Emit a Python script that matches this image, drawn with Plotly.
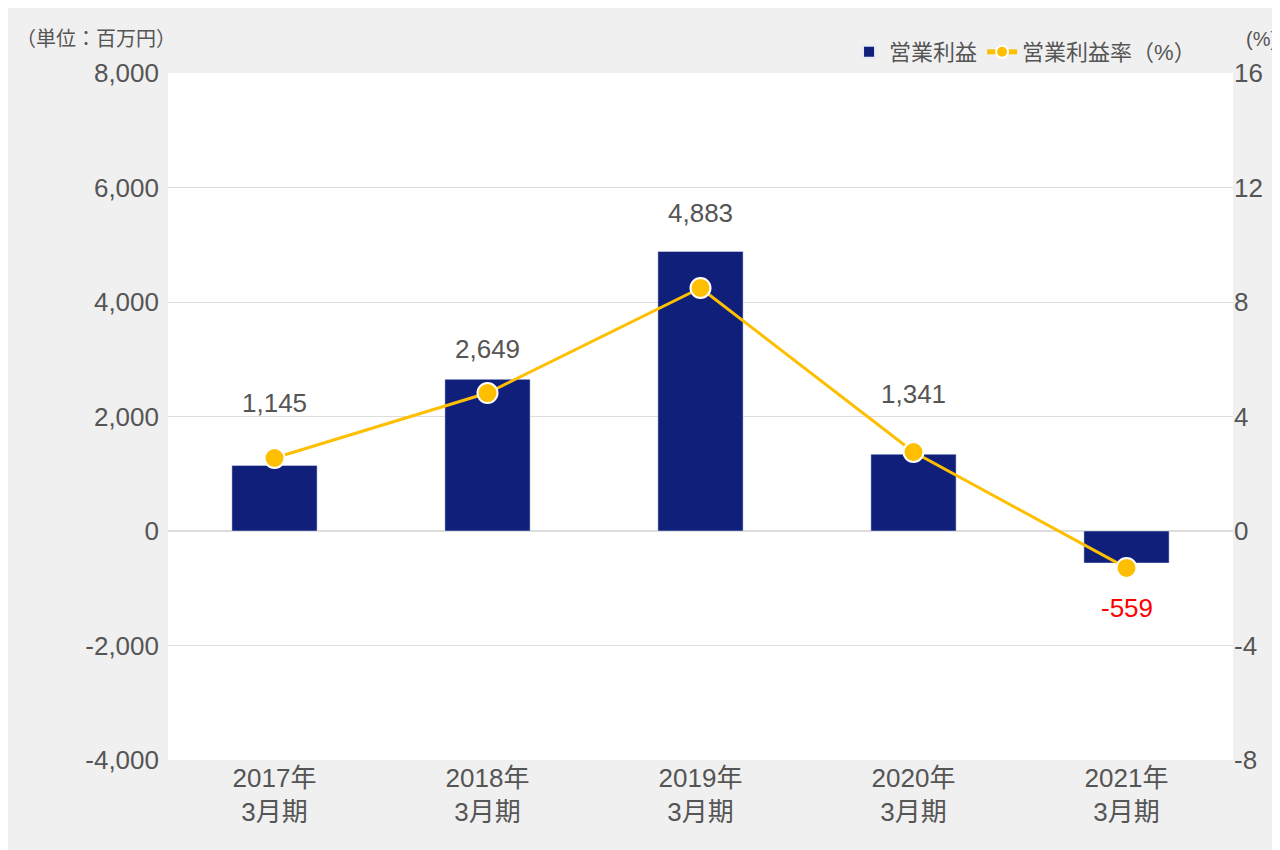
import plotly.graph_objects as go

years = ["2017年<br>3月期", "2018年<br>3月期", "2019年<br>3月期", "2020年<br>3月期", "2021年<br>3月期"]
profit = [1145, 2649, 4883, 1341, -559]
margin = [2.55, 4.82, 8.49, 2.76, -1.29]
label_shift = [62, 30, 38, 60, -45]
left_ticks = [-4000, -2000, 0, 2000, 4000, 6000, 8000]
right_ticks = [-8, -4, 0, 4, 8, 12, 16]

font = "Liberation Sans, Arial, Noto Sans CJK JP, sans-serif"
grey = "#555555"

fig = go.Figure()
fig.add_trace(go.Bar(x=years, y=profit, name="営業利益", marker_color="#0f1f7a", width=0.4))
fig.add_trace(go.Scatter(x=years, y=margin, name="営業利益率（%）", yaxis="y2", mode="lines+markers",
                         line=dict(color="#fdbf00", width=3),
                         marker=dict(size=20, color="#fdbf00", line=dict(color="white", width=2))))

for x, v, s in zip(years, profit, label_shift):
    fig.add_annotation(x=x, y=v, yshift=s, text=f"{v:,}", showarrow=False,
                       font=dict(size=26, color="red" if v < 0 else grey))

fig.add_annotation(xref="paper", yref="paper", x=-0.145, y=1.03, text="（単位：百万円）", showarrow=False,
                   xanchor="left", yanchor="bottom", font=dict(size=20, color=grey))
fig.add_annotation(xref="paper", yref="paper", x=1.0, xshift=28, y=1.03, text="(%)", showarrow=False,
                   xanchor="center", yanchor="bottom", font=dict(size=20, color=grey))

fig.update_layout(
    width=1280, height=850,
    paper_bgcolor="#f0f0f0", plot_bgcolor="white",
    margin=dict(l=160, r=55, t=65, b=98),
    font=dict(family=font, size=26, color=grey),
    showlegend=True,
    legend=dict(orientation="h", x=0.97, xanchor="right", y=1.0, yanchor="bottom",
                bgcolor="rgba(0,0,0,0)", font=dict(size=22), itemsizing="constant"),
    xaxis=dict(showgrid=False, tickfont=dict(size=26)),
    yaxis=dict(range=[-4000, 8000], tickvals=left_ticks,
               ticktext=[f"{v:,}" for v in left_ticks], gridcolor="#dddddd",
               zeroline=True, zerolinecolor="#dddddd", ticks="", ticklabelstandoff=8),
    yaxis2=dict(range=[-8, 16], tickvals=right_ticks, ticktext=[str(v) for v in right_ticks],
                overlaying="y", side="right", showgrid=False, zeroline=False),
    bargap=0.6,
)
fig.write_html("out.html")
